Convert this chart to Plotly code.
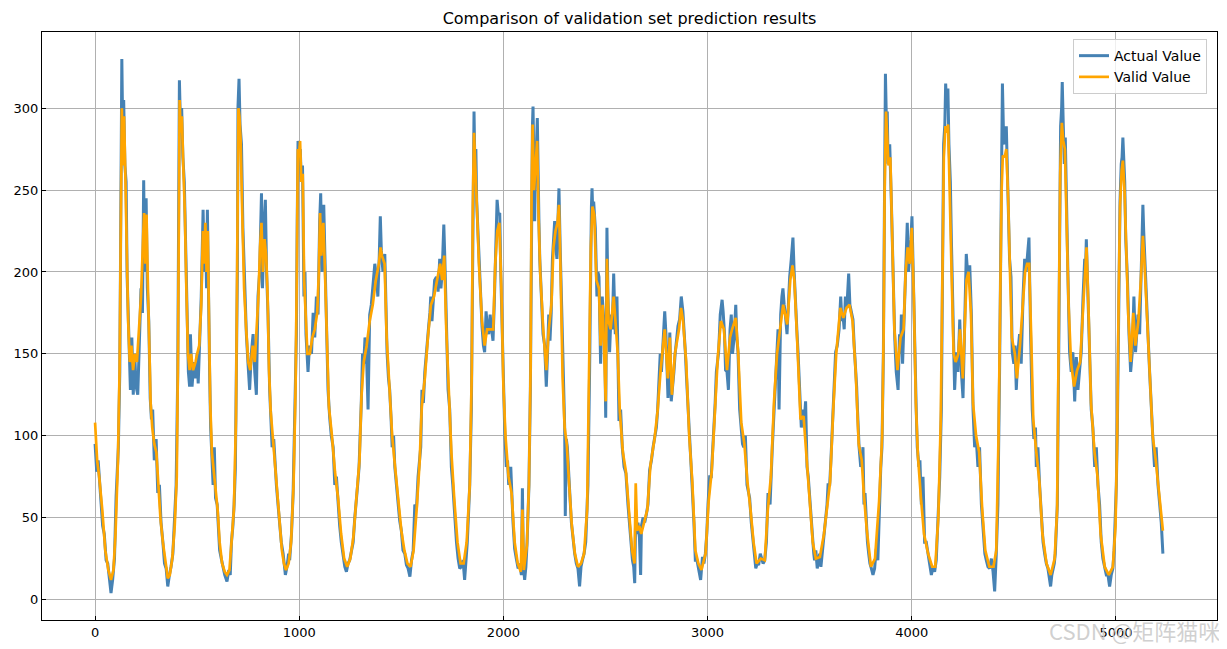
import plotly.graph_objects as go

# ---- data (x index, value) ----
actual_points = [
    (0,95),(8,78),(15,85),(21,72),(28,60),(37,45),(45,40),(54,24),(62,22),(70,14),(78,4),(86,12),(95,25),(103,63),
    (110,80),(114,93),(121,139),(127,300),(131,330),(135,290),(140,305),(146,265),(152,255),(157,197),(163,175),
    (168,150),(173,128),(180,160),(187,125),(194,150),(201,130),(209,125),(217,165),(225,190),(232,175),(238,256),
    (243,200),(250,245),(256,190),(263,170),(270,123),(276,110),(282,116),(290,85),(299,98),(307,65),(315,70),
    (323,47),(332,35),(340,22),(348,19),(356,8),(364,15),(372,20),(381,28),(389,50),(397,70),(405,139),(410,290),
    (413,317),(418,290),(424,300),(430,270),(437,255),(443,220),(449,185),(457,139),(463,130),(467,162),(475,130),
    (483,145),(492,135),(500,150),
    (505,132),(512,160),(520,185),(529,238),(535,200),(541,225),(546,190),(550,238),(555,180),(561,139),(566,105),
    (572,80),(578,70),(584,93),(590,62),(598,58),(604,47),(610,30),(618,25),(627,20),(635,15),(646,11),(655,18),
    (662,15),(668,35),(675,45),(681,58),(687,80),(692,128),(697,200),(700,301),(705,318),(710,290),(717,278),
    (724,227),(733,185),(741,162),(749,144),(757,128),(765,150),(774,162),(782,139),(790,125),(798,185),(806,200),
    (815,248),(820,190),(828,230),(834,244),(840,200),(847,174),(855,128),(860,110),(867,93),(875,98),(882,80),
    (888,70),(896,58),(904,47),(912,35),(921,28),(928,18),(932,15),(940,20),(948,28),(953,24),(962,40),(970,65),
    (978,105),(986,162),(990,230),(994,280),(998,265),(1005,275),(1010,255),(1016,265),(1023,185),
    (1028,200),(1033,162),(1043,139),(1050,155),(1060,150),(1068,175),(1076,160),(1084,185),(1092,174),(1100,231),
    (1105,248),(1112,200),(1120,241),(1126,208),(1133,162),(1141,128),(1149,111),(1157,100),(1166,93),(1174,70),
    (1182,75),(1190,58),(1198,45),(1206,35),(1215,28),(1223,20),(1231,17),(1239,22),(1247,24),(1255,30),(1264,35),
    (1272,50),(1280,65),(1286,70),(1293,81),(1299,100),(1304,121),(1310,150),(1316,144),(1322,160),(1329,151),
    (1337,116),(1345,174),(1353,180),(1361,190),(1370,205),(1378,197),(1385,185),(1392,210),(1397,234),(1402,213),
    (1410,200),(1419,211),(1425,170),(1430,151),(1437,135),(1443,128),(1450,110),(1455,93),(1462,100),(1468,81),
    (1476,70),(1484,58),(1492,48),(1500,42),(1508,30),(1517,28),(1525,21),
    (1533,19),(1542,14),(1550,24),(1558,30),(1566,58),(1574,55),(1582,75),(1590,85),(1595,93),(1601,128),(1608,120),
    (1615,139),(1622,151),(1628,160),(1634,167),(1640,175),(1644,185),(1650,170),(1655,180),(1663,195),(1672,197),
    (1680,188),(1688,208),(1694,190),(1700,200),(1708,229),(1713,208),(1721,162),(1729,128),(1737,116),(1745,81),
    (1752,70),(1758,58),(1764,45),(1770,35),(1778,25),(1786,19),(1794,20),(1802,24),(1810,12),(1816,22),(1823,35),
    (1830,55),(1835,70),(1843,116),(1848,200),(1851,255),(1856,298),(1860,266),(1865,275),(1869,243),(1876,220),
    (1884,197),(1890,185),(1895,167),(1902,155),(1908,151),(1915,176),(1922,165),(1928,162),(1935,174),(1942,165),
    (1949,158),(1955,180),(1960,208),(1965,230),(1969,244),(1975,235),(1982,236),(1987,200),(1990,185),(1994,160),
    (1998,139),(2006,105),(2014,81),(2020,85),(2026,70),(2036,81),(2047,47),(2055,31),
    (2063,25),(2072,19),(2080,22),(2088,15),(2093,68),(2098,20),(2104,12),(2110,20),(2116,35),(2120,50),(2125,70),
    (2132,128),(2137,231),(2142,289),(2145,301),(2150,250),(2153,231),(2158,270),(2162,278),(2166,294),(2170,243),
    (2174,230),(2178,208),(2186,185),(2194,162),(2202,155),(2206,145),(2210,130),(2216,150),(2222,174),(2228,158),
    (2234,175),(2240,208),(2246,220),(2251,231),(2257,215),(2262,208),(2268,235),(2272,251),(2278,215),(2284,185),
    (2292,128),(2296,120),(2300,105),(2303,51),(2308,98),(2313,93),(2321,70),(2328,58),(2333,47),(2341,35),
    (2349,28),(2357,22),(2365,19),(2373,8),(2380,20),(2387,24),(2395,28),(2403,35),(2410,55),(2414,70),(2422,139),
    (2427,208),(2431,240),(2434,251),(2438,235),(2442,243),(2450,227),(2458,185),(2463,200),(2468,197),(2476,144),
    (2484,185),(2490,175),(2496,160),(2501,111),(2505,180),(2507,227),(2512,185),(2520,151),(2527,174),(2533,165),
    (2540,199),(2548,162),(2556,185),(2562,150),(2566,109),
    (2574,116),(2582,93),(2591,81),(2600,77),(2610,58),(2617,45),(2623,35),(2632,24),(2638,20),(2643,10),(2648,55),
    (2653,40),(2659,47),(2666,38),(2672,15),(2676,45),(2684,50),(2692,47),(2700,52),(2708,58),(2716,79),(2725,85),
    (2733,93),(2741,98),(2749,105),(2755,115),(2761,134),(2768,150),(2774,139),(2782,155),(2790,176),(2796,162),
    (2802,139),(2806,123),(2812,150),(2815,163),(2822,121),(2830,130),(2835,139),(2841,150),(2847,158),(2855,167),
    (2863,171),(2871,185),(2879,176),(2885,165),(2891,151),(2897,135),(2904,116),(2912,98),(2918,85),(2924,70),
    (2933,47),(2940,24),(2948,24),(2955,20),(2966,12),(2975,26),(2982,22),(2989,28),(2996,40),(3002,58),(3010,75),
    (3018,75),(3025,90),(3031,105),(3037,120),(3043,139),(3054,151),(3062,174),(3071,183),
    (3076,176),(3083,162),(3088,140),(3095,139),(3102,128),(3110,165),(3116,174),(3122,150),(3130,160),(3138,180),
    (3143,160),(3149,151),(3157,116),(3165,105),(3171,95),(3177,93),(3185,100),(3193,70),(3200,65),(3206,62),
    (3214,47),(3223,35),(3230,25),(3236,19),(3243,22),(3250,21),(3258,28),(3263,26),(3272,22),(3280,24),(3288,35),
    (3296,65),(3306,58),(3317,93),(3323,110),(3329,128),(3335,145),(3340,151),(3345,165),(3350,116),(3354,160),
    (3358,174),(3364,185),(3369,190),(3375,180),(3381,174),(3389,162),(3395,180),(3402,197),(3410,208),(3418,221),
    (3424,200),(3431,185),(3437,165),(3443,151),(3451,128),(3459,105),(3468,116),(3474,110),(3480,121),(3487,81),
    (3493,75),(3500,62),(3507,50),(3513,35),(3520,28),(3524,24),(3530,30),(3537,19),(3543,25),(3549,28),(3555,20),
    (3561,28),(3567,35),(3573,42),(3585,58),(3590,70),
    (3598,70),(3604,85),(3609,98),(3619,128),(3627,151),(3635,155),(3644,165),(3652,185),(3658,170),(3663,174),
    (3669,165),(3675,185),(3682,178),(3691,199),(3697,180),(3705,175),(3712,171),(3718,155),(3724,144),(3730,130),
    (3734,116),(3742,93),(3750,81),(3756,85),(3761,93),(3766,58),(3771,65),(3777,47),(3783,35),(3789,28),(3795,22),
    (3802,19),(3810,15),(3818,19),(3826,31),(3834,24),(3843,70),(3848,80),(3854,93),(3861,151),(3867,255),
    (3871,321),(3876,290),(3880,298),(3884,266),(3892,278),(3900,243),(3904,220),(3908,197),(3912,170),(3916,162),
    (3920,150),(3924,139),(3933,128),(3940,162),(3945,150),(3949,174),(3955,144),(3962,170),(3968,197),(3973,205),
    (3978,230),(3984,200),(3990,208),(3996,220),(4001,234),(4006,200),(4011,185),(4017,139),(4022,115),(4027,93),
    (4035,81),(4040,85),(4047,58),(4055,75),(4063,35),(4071,35),(4079,28),(4088,22),(4096,15),(4104,20),
    (4112,17),(4120,24),(4128,47),(4137,75),(4145,116),(4150,185),(4156,278),(4162,290),(4166,315),(4171,300),
    (4177,312),(4182,278),(4189,255),(4194,220),(4199,185),(4205,151),(4210,128),(4218,151),(4226,139),(4235,171),
    (4243,139),(4251,123),(4259,174),(4267,211),(4275,197),(4284,204),(4292,174),(4300,116),(4308,93),(4316,98),
    (4324,81),(4332,93),(4341,58),(4352,35),(4358,28),(4365,24),(4373,20),(4381,19),(4390,25),(4398,17),(4406,5),
    (4414,28),(4422,58),(4430,139),(4439,243),(4444,315),(4450,280),(4455,278),(4463,289),(4471,255),(4479,208),
    (4486,197),(4492,151),(4500,144),(4506,155),(4512,128),(4520,151),(4528,162),(4536,144),(4545,185),(4553,208),
    (4560,200),(4564,208),(4574,221),(4582,162),(4590,116),(4598,98),(4606,105),(4610,81),
    (4618,93),(4626,70),(4635,47),(4643,35),(4651,28),(4659,22),(4667,19),(4673,12),(4680,8),(4686,15),(4692,19),
    (4698,22),(4703,28),(4708,40),(4713,58),(4719,139),(4724,231),(4729,289),(4734,300),(4737,316),(4742,290),
    (4747,266),(4752,282),(4756,250),(4759,231),(4765,197),(4773,151),(4781,139),(4789,151),(4798,121),(4806,148),
    (4814,128),(4822,140),(4830,151),(4839,185),(4847,208),(4851,200),(4855,220),(4863,185),(4871,151),(4879,116),
    (4887,105),(4896,81),(4904,93),(4912,70),(4920,58),(4928,35),(4936,25),(4945,19),(4953,15),(4961,15),(4969,8),
    (4977,15),(4985,19),(4991,30),(4997,47),(5002,70),(5007,105),(5013,185),(5020,243),(5026,266),(5030,270),
    (5034,282),(5039,265),(5043,255),(5048,220),(5056,197),(5064,162),(5072,139),(5080,151),(5088,185),(5096,151),
    (5102,165),(5108,174),(5116,162),(5124,197),(5128,220),(5132,241),(5136,225),(5141,208),(5149,185),(5157,162),
    (5165,139),(5173,116),(5181,98),(5189,81),(5197,93),(5206,70),(5214,58),(5222,47),(5230,28),
]

valid_points = [
    (0,108),(10,85),(20,75),(35,55),(50,30),(65,18),(78,12),(90,18),(100,40),(112,85),(120,140),(126,260),(131,300),
    (136,265),(142,295),(148,260),(155,210),(162,170),(170,145),(178,155),(186,140),(195,150),(205,145),(215,165),
    (225,185),(235,220),(240,236),(246,205),(252,235),(258,195),(265,150),(272,120),(280,105),(290,95),(300,90),
    (310,70),(320,50),(332,35),(345,22),(356,13),(366,15),(378,25),(390,45),(400,75),(406,150),(410,270),(414,305),
    (419,285),(425,295),(432,265),(440,235),(447,190),(455,150),(463,140),(470,150),(480,140),(492,145),(500,150),
    (510,155),(520,180),(528,225),(534,205),(540,230),(546,200),(552,225),(558,170),(564,120),(572,90),(580,80),
    (590,70),(600,55),(610,35),(622,22),(635,17),(646,15),(658,18),(668,35),(680,55),(690,110),(697,230),(702,300),
    (707,295),(713,280),(720,240),(730,190),(740,165),(750,145),(760,140),(772,155),(782,145),(792,165),(800,185),
    (808,215),(815,230),(822,200),(830,220),(838,210),(845,185),(852,140),(860,115),(870,100),(882,80),(895,60),
    (905,45),(915,30),(925,22),(935,18),(948,22),(960,35),(972,70),(982,130),(988,200),(993,275),(998,270),
    (1004,280),(1010,255),(1017,260),(1024,195),(1030,180),(1040,150),(1052,150),(1064,160),(1076,165),(1088,175),
    (1096,200),(1102,236),(1108,210),(1118,230),(1126,200),(1134,160),(1145,118),(1160,100),(1175,78),(1190,62),
    (1205,40),(1220,25),(1235,20),(1250,25),(1265,38),(1280,62),(1295,85),(1305,125),(1316,145),(1330,155),
    (1345,170),(1360,180),(1375,195),(1390,205),(1398,215),(1405,210),(1418,205),(1428,160),(1440,130),(1455,100),
    (1470,80),(1485,60),(1500,42),(1515,30),(1530,22),(1545,20),(1560,30),(1575,55),(1590,85),(1600,118),(1615,135),
    (1630,160),(1645,180),(1660,185),(1675,195),(1690,205),(1700,195),(1710,210),(1720,165),(1730,130),(1745,90),
    (1760,60),(1775,35),(1790,22),(1805,22),(1820,35),(1835,70),(1845,140),(1850,240),(1856,285),(1862,260),
    (1870,240),(1880,205),(1895,170),(1908,155),(1920,165),(1935,165),(1950,165),(1960,205),(1970,225),(1980,230),
    (1990,190),(2000,130),(2010,100),(2025,75),(2040,65),(2055,35),(2070,22),(2085,17),(2093,55),(2100,18),
    (2115,33),(2125,70),(2133,140),(2138,250),(2143,290),(2150,250),(2158,265),(2165,280),(2172,235),(2180,200),
    (2195,165),(2210,140),(2222,165),(2235,180),(2245,215),(2255,225),(2265,230),(2272,241),(2280,200),(2290,135),
    (2300,105),(2310,95),(2322,70),(2335,45),(2350,28),(2365,20),(2380,22),(2395,28),(2410,55),(2420,130),
    (2428,215),(2436,240),(2445,235),(2455,195),(2468,190),(2476,155),(2486,180),(2501,121),(2507,208),(2515,170),
    (2525,165),(2540,185),(2550,170),(2560,150),(2570,115),(2585,90),(2600,78),(2615,55),(2630,30),(2642,22),
    (2648,71),(2655,42),(2665,45),(2675,40),(2690,48),(2705,55),(2720,82),(2740,98),(2755,115),(2770,140),
    (2790,165),(2805,135),(2815,160),(2825,125),(2840,150),(2860,165),(2870,178),(2880,170),(2895,145),(2910,100),
    (2925,72),(2940,30),(2955,22),(2970,18),(2990,28),(3005,60),(3020,78),(3035,110),(3050,148),(3065,170),
    (3080,165),(3095,140),(3110,160),(3120,165),(3138,172),(3150,150),(3165,108),(3180,95),(3195,72),(3210,55),
    (3225,35),(3240,22),(3260,25),(3280,24),(3295,55),(3310,75),(3325,120),(3340,150),(3355,165),(3370,180),
    (3390,168),(3405,195),(3416,204),(3425,195),(3440,155),(3455,110),(3470,112),(3485,85),(3500,62),(3515,35),
    (3530,25),(3550,26),(3570,40),(3585,58),(3600,72),(3615,115),(3630,150),(3650,178),(3665,172),(3680,178),
    (3695,180),(3710,170),(3725,140),(3740,95),(3755,85),(3765,65),(3780,42),(3800,20),(3820,25),(3840,60),
    (3855,100),(3862,160),(3867,250),(3874,298),(3880,285),(3886,265),(3895,270),(3905,215),(3915,165),(3930,140),
    (3945,160),(3960,165),(3970,200),(3980,215),(3990,205),(4000,227),(4010,185),(4020,120),(4030,88),(4045,62),
    (4060,40),(4080,28),(4100,20),(4115,20),(4130,50),(4142,110),(4150,200),(4157,270),(4165,289),(4172,285),
    (4178,290),(4186,255),(4195,200),(4205,150),(4215,145),(4228,150),(4236,165),(4250,135),(4260,170),(4268,195),
    (4278,200),(4290,175),(4300,120),(4315,100),(4330,90),(4345,55),(4360,30),(4380,20),(4400,20),(4414,30),
    (4425,100),(4433,190),(4440,250),(4446,271),(4455,270),(4463,275),(4472,245),(4480,205),(4490,160),(4505,150),
    (4515,135),(4530,155),(4545,180),(4555,200),(4565,205),(4575,205),(4585,160),(4595,110),(4610,90),(4625,72),
    (4640,40),(4660,22),(4680,15),(4700,25),(4712,55),(4720,150),(4727,260),(4735,291),(4742,280),(4750,275),
    (4758,230),(4768,180),(4780,145),(4795,130),(4810,140),(4825,145),(4840,180),(4850,200),(4856,215),(4865,180),
    (4878,120),(4895,90),(4910,75),(4925,40),(4945,20),(4965,15),(4985,20),(4998,45),(5006,100),(5013,180),
    (5020,240),(5028,262),(5034,268),(5042,250),(5050,215),(5060,175),(5072,145),(5085,175),(5095,155),(5110,170),
    (5122,195),(5132,222),(5140,205),(5150,180),(5165,140),(5180,100),(5195,85),(5210,65),(5222,50),(5230,42),
]

x_ticks = [0, 1000, 2000, 3000, 4000, 5000]
y_ticks = [0, 50, 100, 150, 200, 250, 300]
series_names = ["Actual Value", "Valid Value"]
title_text = "Comparison of validation set prediction results"
watermark = "CSDN @矩阵猫咪"

actual_x = [p[0] for p in actual_points]
actual_y = [p[1] for p in actual_points]
valid_x = [p[0] for p in valid_points]
valid_y = [p[1] for p in valid_points]

FONT = "DejaVu Sans, Liberation Sans, sans-serif"

# page is offset by the browser's default 8px body margin, so the figure is
# sized/margined to land the plot area where the reference has it
W, H = 1219, 641

fig = go.Figure()
fig.add_trace(go.Scatter(x=actual_x, y=actual_y, mode="lines", name=series_names[0],
                         line=dict(color="#4682B4", width=3.0)))
fig.add_trace(go.Scatter(x=valid_x, y=valid_y, mode="lines", name=series_names[1],
                         line=dict(color="#FFA500", width=2.7)))

axis_common = dict(showline=True, linecolor="black", linewidth=1, mirror=True,
                   showgrid=True, gridcolor="#b0b0b0", gridwidth=0.8, zeroline=False,
                   ticks="inside", ticklen=4, tickcolor="black", automargin=False,
                   tickfont=dict(family=FONT, size=13, color="black"))

fig.update_layout(
    width=W, height=H,
    margin=dict(l=34, r=10, t=24, b=29, autoexpand=False),
    paper_bgcolor="white", plot_bgcolor="white",
    title=dict(text=title_text, x=0.5, xref="paper", xanchor="center",
               y=1 - 10 / H, yref="container", yanchor="middle", automargin=False,
               font=dict(family=FONT, size=16, color="black")),
    xaxis=dict(range=[-260, 5495], tickvals=x_ticks, **axis_common),
    yaxis=dict(range=[-12.5, 346.5], tickvals=y_ticks, **axis_common),
    legend=dict(x=0.9915, y=0.988, xanchor="right", yanchor="top",
                bgcolor="rgba(255,255,255,0.8)", bordercolor="#cccccc", borderwidth=1,
                font=dict(family=FONT, size=14, color="black"), tracegroupgap=2),
    showlegend=True,
)

fig.add_annotation(text=watermark, xref="paper", yref="paper",
                   x=1 + 5 / 1175, y=-10 / 588, xanchor="right", yanchor="middle",
                   showarrow=False, font=dict(family="Noto Sans CJK SC", size=22,
                                              color="rgba(200,200,200,0.85)"))

fig.write_html("out.html")
